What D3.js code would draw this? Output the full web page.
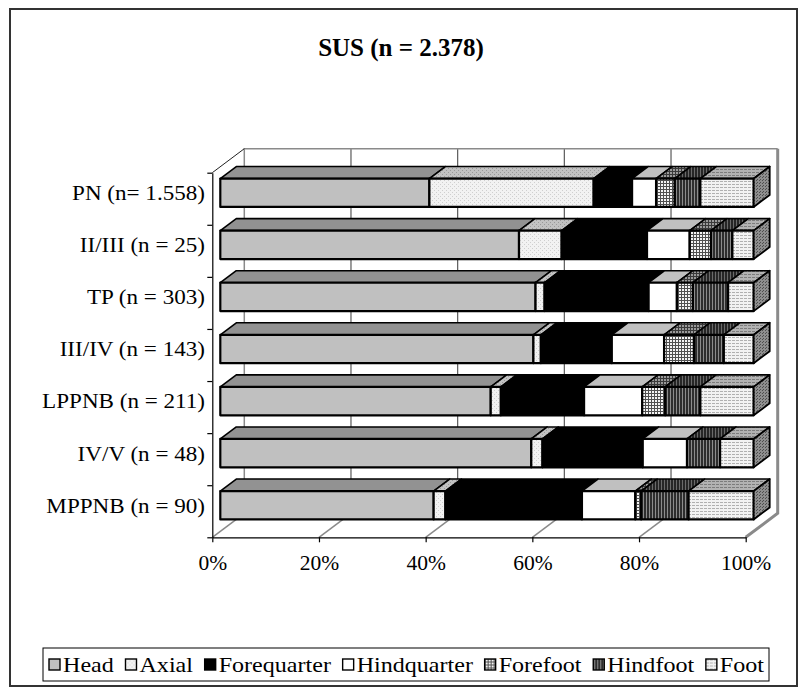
<!DOCTYPE html>
<html>
<head>
<meta charset="utf-8">
<script src="https://cdn.jsdelivr.net/npm/d3@7"></script>
<style>
  html, body { margin: 0; padding: 0; background: #fff; }
</style>
</head>
<body>
<svg id="chart" width="804" height="695"></svg>
<script>
// ---- data: share of skeletal elements per group (% of NISP) ----
const categories = [
  "PN (n= 1.558)",
  "II/III (n = 25)",
  "TP (n = 303)",
  "III/IV (n = 143)",
  "LPPNB (n = 211)",
  "IV/V (n = 48)",
  "MPPNB (n = 90)"
];
const seriesNames = ["Head", "Axial", "Forequarter", "Hindquarter", "Forefoot", "Hindfoot", "Foot"];
const head        = [39.2, 56.0, 59.1, 58.7, 50.7, 58.3, 40.0];
const axial       = [30.8,  8.0,  1.7,  1.4,  1.9,  2.1,  2.2];
const forequarter = [ 7.2, 16.0, 19.5, 13.3, 15.6, 18.8, 25.6];
const hindquarter = [ 4.5,  8.0,  5.3,  9.8, 10.9,  8.3, 10.0];
const forefoot    = [ 3.5,  4.0,  3.0,  5.6,  4.3,  0.0,  1.1];
const hindfoot    = [ 4.8,  4.0,  6.6,  5.6,  6.6,  6.2,  8.9];
const foot        = [10.0,  4.0,  4.8,  5.6, 10.0,  6.3, 12.2];
const tickValues  = [0, 20, 40, 60, 80, 100];
const titleText   = "SUS (n = 2.378)";

const seriesValues = [head, axial, forequarter, hindquarter, forefoot, hindfoot, foot];
const rows = categories.map((c, i) => {
  const r = { cat: c };
  seriesNames.forEach((s, k) => r[s] = seriesValues[k][i]);
  return r;
});
const stacked = d3.stack().keys(seriesNames)(rows);

const FONT = "Liberation Serif, Times New Roman, serif";
const svg = d3.select("#chart");

// ---- fill patterns (front / top / side shading) ----
const defs = svg.append("defs");
function pat(id, w, h, bg, marks) {
  const p = defs.append("pattern").attr("id", id)
    .attr("patternUnits", "userSpaceOnUse").attr("width", w).attr("height", h);
  p.append("rect").attr("width", w).attr("height", h).attr("fill", bg);
  marks.forEach(m => p.append("rect").attr("x", m[0]).attr("y", m[1])
    .attr("width", m[2]).attr("height", m[3]).attr("fill", m[4]));
}
pat("axF", 4, 4, "#f2f2f2", [[0,0,1,1,"#cfcfcf"],[2,2,1,1,"#cfcfcf"]]);
pat("axT", 4, 4, "#c2c2c2", [[0,0,1,1,"#999999"],[2,2,1,1,"#999999"]]);
pat("ffF", 3, 3, "#f4f4f4", [[0,0,3,1,"#505050"],[0,0,1,3,"#505050"]]);
pat("ffT", 3, 3, "#9a9a9a", [[0,0,3,1,"#3a3a3a"],[0,0,1,3,"#3a3a3a"]]);
pat("hfF", 3, 3, "#2e2e2e", [[1,0,1,3,"#8c8c8c"]]);
pat("hfT", 3, 3, "#262626", [[1,0,1,3,"#6a6a6a"]]);
pat("ftF", 4, 3, "#f2f2f2", [[0,1,3,1,"#b0b0b0"]]);
pat("ftT", 4, 3, "#b2b2b2", [[0,1,3,1,"#7c7c7c"]]);
pat("ftS", 3, 3, "#8e8e8e", [[0,0,1,1,"#4e4e4e"],[1,2,1,1,"#4e4e4e"]]);

const fills = {
  Head:        { front: "#c0c0c0",   top: "#929292",   side: "#7a7a7a" },
  Axial:       { front: "url(#axF)", top: "url(#axT)", side: "#8a8a8a" },
  Forequarter: { front: "#000000",   top: "#000000",   side: "#000000" },
  Hindquarter: { front: "#ffffff",   top: "#c0c0c0",   side: "#9a9a9a" },
  Forefoot:    { front: "url(#ffF)", top: "url(#ffT)", side: "#6a6a6a" },
  Hindfoot:    { front: "url(#hfF)", top: "url(#hfT)", side: "#222222" },
  Foot:        { front: "url(#ftF)", top: "url(#ftT)", side: "url(#ftS)" }
};

// ---- 3D projection: front plane of the box plus a depth offset ----
const x = d3.scaleLinear().domain([0, 100]).range([212.3, 745.7]);
const band = d3.scaleBand().domain(categories).range([172.7, 537.3]).paddingInner(0).paddingOuter(0);
const rowIdx = d3.scaleLinear().domain([0, categories.length]).range([172.7, 537.3]);
const DX = 32, DY = -24;          // full depth of the box
const zFront = 0.25, zBack = 0.75; // bars sit in the middle of the depth
const halfBar = 14.2;
const P = (px, py, z) => [px + z * DX, py + z * DY];

// ---- walls, floor, gridlines ----
const wall = svg.append("g");
const bx0 = x(0) + DX, bx1 = x(100) + DX, byTop = 172.7 + DY, byBot = 537.3 + DY;
wall.selectAll("line.grid").data(tickValues.slice(1, -1)).join("line")
  .attr("x1", d => x(d) + DX).attr("x2", d => x(d) + DX)
  .attr("y1", byTop).attr("y2", byBot)
  .attr("stroke", "#5a5a5a").attr("stroke-width", 1.2);
wall.selectAll("line.floor").data(tickValues.slice(0, -1)).join("line")
  .attr("x1", d => x(d)).attr("y1", 537.3)
  .attr("x2", d => x(d) + DX).attr("y2", 537.3 + DY)
  .attr("stroke", "#8a8a8a").attr("stroke-width", 1.5);
wall.append("path")
  .attr("d", `M${bx0},${byBot}V${byTop}H${bx1}`)
  .attr("fill", "none").attr("stroke", "#8a8a8a").attr("stroke-width", 1.5);
wall.append("path")
  .attr("d", `M${bx1},${byTop}V${byBot}L${x(100)},537.3`)
  .attr("fill", "none").attr("stroke", "#8a8a8a").attr("stroke-width", 3);
wall.append("line")
  .attr("x1", x(0)).attr("y1", 172.7).attr("x2", bx0).attr("y2", byTop)
  .attr("stroke", "#222").attr("stroke-width", 1);

// ---- bars ----
const bars = svg.append("g");
categories.forEach((cat, i) => {
  const cy = band(cat) + band.bandwidth() / 2;
  const yT = cy - halfBar, yB = cy + halfBar;
  const g = bars.append("g");
  stacked.forEach(layer => {
    const d = layer[i];
    const v0 = d[0], v1 = d[1];
    if (v1 - v0 <= 0) return;
    const f = fills[layer.key];
    const a = P(x(v0), yT, zFront), b = P(x(v1), yT, zFront),
          c = P(x(v1), yB, zFront), e = P(x(v0), yB, zFront);
    const bt = P(x(v1), yT, zBack), at = P(x(v0), yT, zBack);
    g.append("path").attr("d", `M${a}L${b}L${bt}L${at}Z`)
      .attr("fill", f.top).attr("stroke", "#000").attr("stroke-width", 1.6)
      .attr("stroke-linejoin", "round");
    g.append("path").attr("d", `M${a}L${b}L${c}L${e}Z`)
      .attr("fill", f.front).attr("stroke", "#000").attr("stroke-width", 2.2)
      .attr("stroke-linejoin", "round");
  });
  const lastKey = seriesNames[seriesNames.length - 1];
  const vEnd = stacked[stacked.length - 1][i][1];
  const p1 = P(x(vEnd), yT, zFront), p2 = P(x(vEnd), yT, zBack),
        p3 = P(x(vEnd), yB, zBack), p4 = P(x(vEnd), yB, zFront);
  g.append("path").attr("d", `M${p1}L${p2}L${p3}L${p4}Z`)
    .attr("fill", fills[lastKey].side).attr("stroke", "#000").attr("stroke-width", 1.8)
    .attr("stroke-linejoin", "round");

  // category label, centred on the bar's front face
  svg.append("text")
    .attr("transform", `translate(205,${cy + zFront * DY}) scale(1.1,1)`)
    .attr("dy", "0.35em").attr("text-anchor", "end")
    .attr("font-family", FONT).attr("font-size", 21)
    .text(cat);
});

// ---- axes ----
const xAxis = d3.axisBottom(x).tickValues(tickValues).tickFormat(d => d + "%")
  .tickSizeInner(5).tickSizeOuter(0).tickPadding(12);
const gx = svg.append("g").attr("transform", "translate(0,537.3)").call(xAxis);
gx.attr("font-family", FONT);
gx.select(".domain").attr("stroke", "#000").attr("stroke-width", 1.2);
gx.selectAll(".tick line").attr("stroke", "#000").attr("stroke-width", 1.2);
gx.selectAll(".tick text").attr("font-family", FONT).attr("font-size", 21.5).attr("fill", "#000");

const yAxis = d3.axisLeft(rowIdx).tickValues(d3.range(0, categories.length + 1))
  .tickFormat("").tickSizeInner(5).tickSizeOuter(0);
const gy = svg.append("g").attr("transform", `translate(${x(0)},0)`).call(yAxis);
gy.select(".domain").attr("stroke", "#000").attr("stroke-width", 1.2);
gy.selectAll(".tick line").attr("stroke", "#000").attr("stroke-width", 1.2);

// ---- title ----
svg.append("text").attr("x", 401).attr("y", 56).attr("text-anchor", "middle")
  .attr("font-family", FONT).attr("font-size", 25).attr("font-weight", "bold")
  .text(titleText);

// ---- legend ----
const legX0 = 43, legX1 = 769, legY0 = 648, legY1 = 681;
svg.append("rect").attr("x", legX0).attr("y", legY0)
  .attr("width", legX1 - legX0).attr("height", legY1 - legY0)
  .attr("fill", "#fff").attr("stroke", "#000").attr("stroke-width", 1);
const leg = svg.append("g");
const sw = 11, swGap = 3, legScale = 1.12;
const items = seriesNames.map(name => {
  const it = leg.append("g");
  it.append("rect").attr("width", sw).attr("height", sw)
    .attr("y", -sw / 2)
    .attr("fill", fills[name].front).attr("stroke", "#000").attr("stroke-width", 1.4);
  const t = it.append("text")
    .attr("transform", `translate(${sw + swGap},0) scale(${legScale},1)`)
    .attr("dy", "0.35em").attr("font-family", FONT).attr("font-size", 21.5).text(name);
  return { it, w: sw + swGap + t.node().getComputedTextLength() * legScale };
});
// spread items across the legend box
const innerL = legX0 + 6, innerR = legX1 - 5;
const textW = d3.sum(items, d => d.w);
const gap = (innerR - innerL - textW) / (items.length - 1);
let cx = innerL;
const legCy = (legY0 + legY1) / 2;
items.forEach(d => { d.it.attr("transform", `translate(${cx},${legCy})`); cx += d.w + gap; });

// ---- outer chart border ----
svg.append("rect").attr("x", 10).attr("y", 9).attr("width", 787).attr("height", 677)
  .attr("fill", "none").attr("stroke", "#333").attr("stroke-width", 2);
</script>
</body>
</html>
